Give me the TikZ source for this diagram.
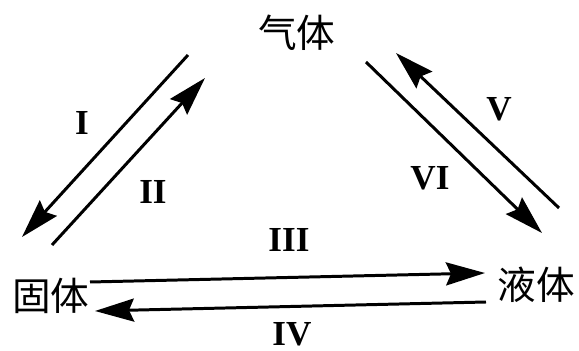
\documentclass[tikz,border=0pt]{standalone}
\usepackage{fontspec}
\setmainfont{Liberation Serif}
\newfontfamily\cjk{Noto Sans CJK SC}
\usetikzlibrary{arrows.meta}
\tikzset{
  phase/.style={inner sep=0pt, font=\cjk\fontsize{22}{22}\selectfont},
  lbl/.style={inner sep=0pt, font=\bfseries\fontsize{20}{20}\selectfont},
  arr/.style={-{Stealth[length=7.8mm,width=4.6mm,inset=1mm]}, line width=1.7pt},
}
\begin{document}
\begin{tikzpicture}[x=0.02cm,y=-0.02cm]
  \useasboundingbox (0,0) rectangle (579,351);
  % phases
  \node[phase] (gas) at (297,33) {气体};
  \node[phase] (solid) at (51,296) {固体};
  \node[phase] (liquid) at (536,285) {液体};
  % arrow ends
  \coordinate (i1) at (188,55);  \coordinate (i2) at (22,237);
  \coordinate (ii1) at (52,245); \coordinate (ii2) at (205,78);
  \coordinate (iii1) at (90,282); \coordinate (iii2) at (485,273);
  \coordinate (iv1) at (486,302); \coordinate (iv2) at (95,311);
  \coordinate (v1) at (559,208);  \coordinate (v2) at (396,53);
  \coordinate (vi1) at (366,62);  \coordinate (vi2) at (542,233);
  \draw[arr] (i1) -- (i2);
  \draw[arr] (ii1) -- (ii2);
  \draw[arr] (iii1) -- (iii2);
  \draw[arr] (iv1) -- (iv2);
  \draw[arr] (v1) -- (v2);
  \draw[arr] (vi1) -- (vi2);
  % labels
  \node[lbl] (li) at (82,123) {I};
  \node[lbl] (lii) at (153,192) {II};
  \node[lbl] (liii) at (289,240) {III};
  \node[lbl] (liv) at (292,334) {IV};
  \node[lbl] (lv) at (499,109) {V};
  \node[lbl] (lvi) at (430,178) {VI};
\end{tikzpicture}
\end{document}
